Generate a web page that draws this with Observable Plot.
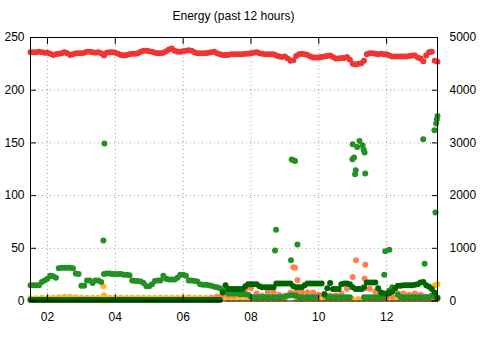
<!DOCTYPE html>
<html><head><meta charset="utf-8">
<script src="https://cdn.jsdelivr.net/npm/d3@7"></script>
<script src="https://cdn.jsdelivr.net/npm/@observablehq/plot@0.6"></script>
<style>
body{margin:0;background:#fff;font-family:"Liberation Sans",Arial,sans-serif;}
#title{width:467px;height:30px;line-height:32px;text-align:center;font-size:12px;color:#000;}
#chart svg{display:block;}
</style></head>
<body>
<div id="title">Energy (past 12 hours)</div>
<div id="chart"></div>
<script>
// readings start at 01:30; voltage and the two green series every 5 min, orange/coral every 10 min
const startHour = 1.5;
const step5 = 1/12, step10 = 1/6;
const xTicks = [2, 4, 6, 8, 10, 12];
const yTicks = [0, 50, 100, 150, 200, 250];
const gridYTicks = [50, 100, 150, 200];

// voltage (left axis), 5-min readings
const voltage = [236,236,236,236.5,236,235.5,235.5,234.5,233.5,234,
234.5,235,236,235,233.5,234,235,235,235,235.5,
236.5,236.5,236,235.5,236,235,233,235.5,236,236,
235.5,234.5,233.5,233,233.5,234,234.5,234.5,235,236.5,
237.5,237.5,237,236.5,235.5,235,235,235.5,237,238.5,
239.5,237.5,236.5,236.5,237,237.5,238,237.5,236,235,
235,235,235,235.5,236,236.5,235,234,233.5,233.5,
233.5,234,234,234,234,234,234.5,234.5,235,235.5,
236,235,234.5,234,234,234,234,233,232,231.5,
232,230,228,228.5,232.5,234,234.5,234,233.5,232,
231,231,231,231.5,232,232.5,233,231.5,230,230,
230.5,230.5,231.5,229,225,224.5,225,225.5,228,234,
235,235,234.5,234,234.5,234,234,233,232,232,
232,232,232,232,232.5,233,233,231,230,227.5,
233,236,236.5,228,227];

// power series (left-axis units; right axis = x20), 5-min readings
const forest = [15,15,15,15,18,19.5,21,24,23.5,22,
31,31.5,31.5,31.5,31.5,31,26,25.5,14.5,14.5,
19.5,19.5,17,19.5,19.5,18,25.5,26,26,25.5,
25.5,25.5,25.5,25,25,24.5,19.5,19,19,18.5,
17,14,14,16,19,19.5,19.5,24,21,20.5,
20.5,20.5,22,25,25,24,19.5,19.5,19,18.5,
16,15.5,15.5,15,14.5,13.5,13,12,10,9,
7,7,7,7,6.5,6.5,6.5,6,4,3.5,
3.5,3.5,3.5,3.5,3.5,3.5,3.5,3.5,3.5,3.5,
4,5,5.5,5.5,5,3.5,3.5,3.5,3.5,3.5,
3.5,3.5,null,null,6.5,3.5,3.5,3.5,3.5,3.5,
3.5,3.5,3.5,3.5,null,null,null,null,3.5,3.5,
3.5,3.5,3.5,3.5,3.5,3.5,6,10,13,12,
6,3.5,3.5,3.5,3.5,3.5,3.5,3.5,3.5,3.5,
3.5,3.5,5,4,null];

const darkgreen = [1,1,1,1,1,1,1,1,1,1,
1,1,1,1,1,1,1,1,1,1,
1,1,1,1,1,1,1,1,1,1,
1,1,1,1,1,1,1,1,1,1,
1,1,1,1,1,1,1,1,1,1,
1,1,1,1,1,1,1,1,1,1,
1,1,1,1,1,1,1,1,8,15,
11.5,11.5,11.5,11.5,11.5,11.5,14,16,16,16,
16,14,13,13,13,13,13,16.5,16.5,16.5,
16.5,16.5,16.5,14,13,13,13,15,16.5,16.5,
16.5,16.5,16.5,16.5,6.5,12,17,11.5,11.5,11.5,
16,16.5,16.5,16,13,11.5,11.5,11.5,13,17.5,
17.5,17.5,17.5,12,8,7,7,7.5,9,12,
14.5,14.5,15,15,15,15,15.5,16,17.5,18,
15,13.5,11.5,8,3];

// 10-min readings
const orange = [2.5,2.5,3,3,3,3.5,4,4,3.5,3, 3,3,3,5.5,3,3,3,3,3,3, 3,3,3,3,3,3,3,3,3.5,3, 3,3,3,4,
  3,2,2,2,2,2,2,2,2,2, 2,2,6,2,2,2,2,2,2,2, 2,2,2,2,2,2,2,2,2,2, 2,2,2,2,2,2,2,3,16];
const coral = [null,null,null,null,null,null,null,null,null,null, null,null,null,null,null,null,null,null,null,null, null,null,null,null,null,null,null,null,null,null, null,null,
  3,4,6,5,5,7,11.5,12,7,5, 8.5,8.5,6,5,8,8.5,8.4,8.4,8,6, 5,5.3,5.3,7,11.6,22.7,11.6,11.6,11.6,9, 5,3,4,7,7,6,7,6,4,2, 2];

// isolated readings
const forestSpikeHours = [3.68,3.65,8.74,8.71,9.37,9.18,9.20,9.25,9.30,10.99,11.04,11.0,11.13,11.2,11.29,11.32,11.35,11.07,11.09,11.37,11.96,12.08,11.93,13.08,13.12,13.44,13.41,13.46,13.48,13.5];
const forestSpikeValues = [149.4,57.3,67.7,47.8,53.5,38.6,134.2,133.5,132.9,134.5,136.1,148.7,146.2,151.9,147.8,143.7,140.8,120.2,124,120.9,47.1,48.7,25,153.4,35.4,83.9,162,168.4,172.2,175.6];
const coralSpikeHours = [9.25,9.3,9.37,11.1,11.37,11.35];
const coralSpikeValues = [32,31.5,19.6,38.6,34.5,21.2];
const orangeSpikeHours = [3.65,13.42];
const orangeSpikeValues = [13.9,15];

const series = (vals, step) => vals.map((v, i) => ({t: startHour + i * step, v})).filter(d => d.v != null);
const pts = (hs, vs) => hs.map((t, i) => ({t, v: vs[i]}));

const C = {red:"#f03434", forest:"#239023", dark:"#006400", orange:"#ffb428", coral:"#ff7f50"};
const R = 3;

const chart = Plot.plot({
  width: 480, height: 330,
  marginLeft: 30, marginRight: 43, marginTop: 7, marginBottom: 59.5,
  style: {fontFamily: '"Liberation Sans", Arial, sans-serif', fontSize: "12px", color: "#000", background: "#fff"},
  x: {domain: [1.5, 13.5]},
  y: {domain: [0, 250]},
  marks: [
    Plot.gridX(xTicks, {stroke: "#9a9a9a", strokeOpacity: 1, strokeDasharray: "1,3"}),
    Plot.gridY(gridYTicks, {stroke: "#9a9a9a", strokeOpacity: 1, strokeDasharray: "1,3"}),
    Plot.dot(series(voltage, step5), {x: "t", y: "v", r: R, fill: C.red}),
    Plot.dot(series(orange, step10), {x: "t", y: "v", r: R, fill: C.orange}),
    Plot.dot(pts(orangeSpikeHours, orangeSpikeValues), {x: "t", y: "v", r: R, fill: C.orange}),
    Plot.dot(series(coral, step10), {x: "t", y: "v", r: R, fill: C.coral}),
    Plot.dot(pts(coralSpikeHours, coralSpikeValues), {x: "t", y: "v", r: R, fill: C.coral}),
    Plot.dot(series(forest, step5), {x: "t", y: "v", r: R, fill: C.forest}),
    Plot.dot(pts(forestSpikeHours, forestSpikeValues), {x: "t", y: "v", r: R, fill: C.forest}),
    Plot.dot(series(darkgreen, step5), {x: "t", y: "v", r: R, fill: C.dark}),
    Plot.frame({stroke: "#000", strokeWidth: 1}),
    Plot.axisX(xTicks, {anchor: "bottom", tickSize: -6, tickPadding: 17, tickFormat: d3.format("02d"), label: null}),
    Plot.axisX(xTicks, {anchor: "top", tickSize: -6, tickFormat: () => "", label: null}),
    Plot.axisY(yTicks, {anchor: "left", tickSize: -6, tickPadding: 12, label: null}),
    Plot.axisY(yTicks, {anchor: "right", tickSize: -6, tickPadding: 18, tickFormat: d => String(d * 20), textAnchor: "start", label: null})
  ]
});
document.getElementById("chart").appendChild(chart);
</script>
</body></html>
